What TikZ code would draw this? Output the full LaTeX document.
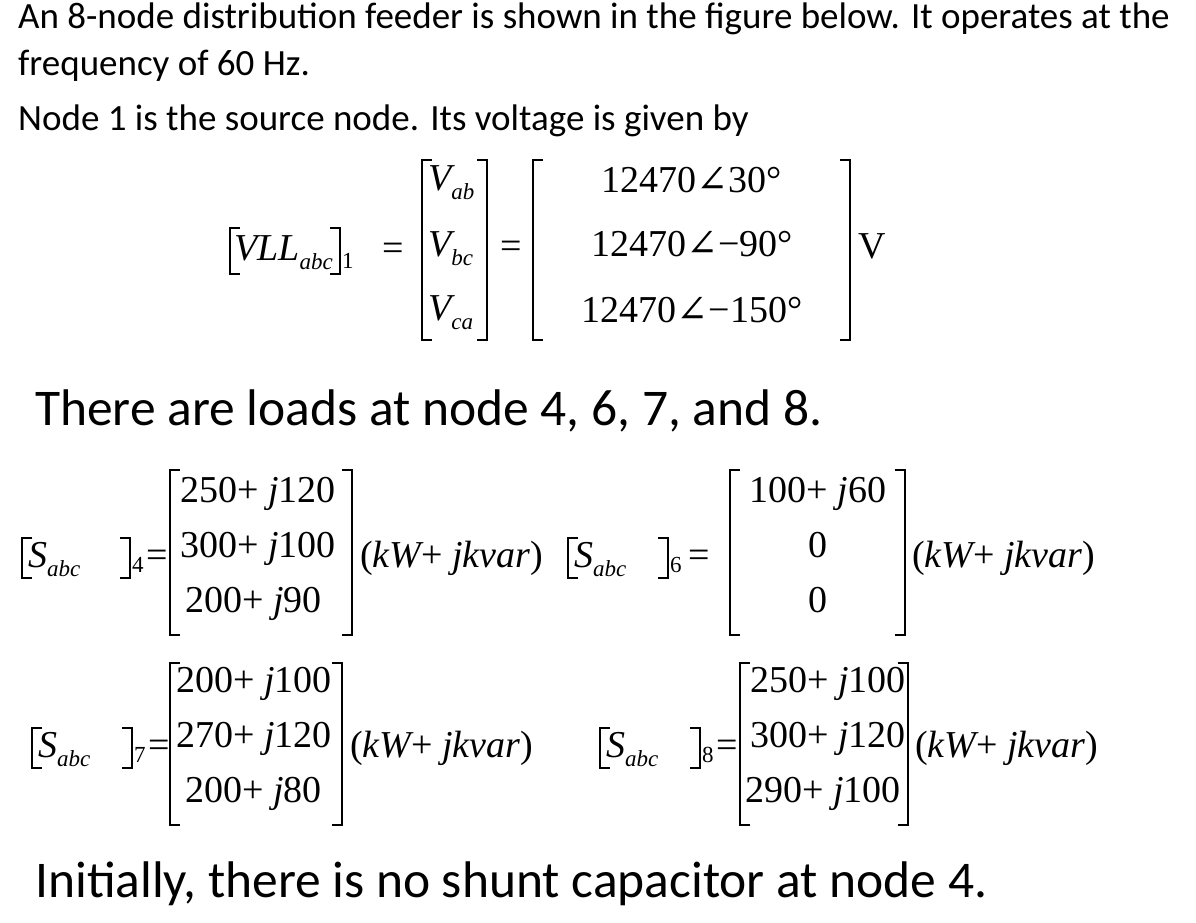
\documentclass[tikz,border=0pt]{standalone}
\usepackage{fontspec}
\setmainfont{Carlito}
\newfontfamily\mf{Liberation Serif}
\newfontfamily\sym{DejaVu Serif}
\newcommand{\ang}{{\sym ∠}}
\newcommand{\sbs}[1]{\raisebox{-9pt}{\fontsize{23}{26}\selectfont #1}}
\begin{document}
\begin{tikzpicture}[x=1pt,y=-1pt,
  txt/.style={anchor=base west,inner sep=0pt,font=\fontsize{37}{42}\selectfont},
  big/.style={anchor=base west,inner sep=0pt,font=\fontsize{51.5}{58}\selectfont},
  mt/.style={anchor=base,inner sep=0pt,font=\mf\fontsize{38}{44}\selectfont},
  ml/.style={anchor=base west,inner sep=0pt,font=\mf\fontsize{38}{44}\selectfont},
  br/.style={line width=1.3pt}]
\useasboundingbox (0,0) rectangle (1196,922);
\newcommand{\bm}[4]{\draw[br] (#1+10,#3)--(#1,#3)--(#1,#4)--(#1+10,#4);
  \draw[br] (#2-10,#3)--(#2,#3)--(#2,#4)--(#2-10,#4);}
\node[txt] (l1) at (18,28) {An 8-node distribution feeder is shown in the figure below. It operates at the};
\node[txt] (l2) at (18,75) {frequency of 60 Hz.};
\node[txt] (l3) at (18,130) {Node 1 is the source node. Its voltage is given by};
% VLL
\bm{230}{340}{228}{274}
\node[ml] (vll) at (234,260) {\itshape VLL\sbs{abc}};
\node[ml] (one) at (342,268) {\fontsize{23}{26}\selectfont 1};
\node[ml] (eq1) at (382,260) {=};
\bm{422}{487}{160}{340}
\node[ml] (vab) at (428,190) {\itshape V\sbs{ab}};
\node[ml] (vbc) at (428,256) {\itshape V\sbs{bc}};
\node[ml] (vca) at (428,320) {\itshape V\sbs{ca}};
\node[ml] (eq2) at (500,258) {=};
\bm{533}{850}{160}{340}
\node[mt] (r1) at (692,192) {12470\ang30°};
\node[mt] (r2) at (692,256) {12470\ang−90°};
\node[mt] (r3) at (692,322) {12470\ang−150°};
\node[ml] (vv) at (858,258) {V};
\node[big] (l4) at (35,425) {There are loads at node 4, 6, 7, and 8.};
% S4
\bm{22}{130}{538}{578}
\node[ml] (s4) at (28,567) {\itshape S\sbs{abc}};
\node[ml] (s4i) at (132,572) {\fontsize{23}{26}\selectfont 4};
\node[ml] (s4e) at (146,567) {=};
\bm{170}{352}{470}{635}
\node[ml] (a1) at (180,502) {250+ \itshape j\upshape120};
\node[ml] (a2) at (180,557) {300+ \itshape j\upshape100};
\node[ml] (a3) at (185,612) {200+ \itshape j\upshape90};
\node[ml] (a4) at (360,567) {(\itshape kW\upshape + \itshape jkvar\upshape)};
% S6
\bm{568}{668}{538}{578}
\node[ml] (s6) at (574,567) {\itshape S\sbs{abc}};
\node[ml] (s6i) at (670,572) {\fontsize{23}{26}\selectfont 6};
\node[ml] (s6e) at (688,567) {=};
\bm{730}{905}{470}{635}
\node[mt] (b1) at (818,502) {100+ \itshape j\upshape60};
\node[mt] (b2) at (818,557) {0};
\node[mt] (b3) at (818,612) {0};
\node[ml] (b4) at (912,567) {(\itshape kW\upshape + \itshape jkvar\upshape)};
% S7
\bm{32}{132}{728}{768}
\node[ml] (s7) at (38,757) {\itshape S\sbs{abc}};
\node[ml] (s7i) at (134,762) {\fontsize{23}{26}\selectfont 7};
\node[ml] (s7e) at (148,757) {=};
\bm{170}{342}{663}{825}
\node[ml] (c1) at (176,692) {200+ \itshape j\upshape100};
\node[ml] (c2) at (176,747) {270+ \itshape j\upshape120};
\node[ml] (c3) at (185,802) {200+ \itshape j\upshape80};
\node[ml] (c4) at (350,757) {(\itshape kW\upshape + \itshape jkvar\upshape)};
% S8
\bm{600}{700}{728}{768}
\node[ml] (s8) at (606,757) {\itshape S\sbs{abc}};
\node[ml] (s8i) at (702,762) {\fontsize{23}{26}\selectfont 8};
\node[ml] (s8e) at (716,757) {=};
\bm{740}{908}{663}{825}
\node[ml] (d1) at (750,692) {250+ \itshape j\upshape100};
\node[ml] (d2) at (750,747) {300+ \itshape j\upshape120};
\node[ml] (d3) at (745,802) {290+ \itshape j\upshape100};
\node[ml] (d4) at (915,757) {(\itshape kW\upshape + \itshape jkvar\upshape)};
\node[big] (l5) at (35,897) {Initially, there is no shunt capacitor at node 4.};
\end{tikzpicture}
\end{document}
